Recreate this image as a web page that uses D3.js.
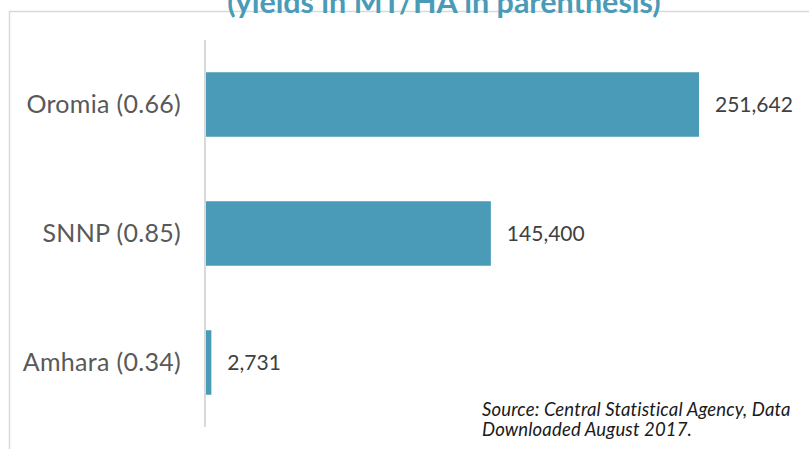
<!DOCTYPE html>
<html>
<head>
<meta charset="utf-8">
<script src="https://cdn.jsdelivr.net/npm/d3@7"></script>
<style>
  html, body { margin: 0; padding: 0; background: #ffffff; }
  svg { display: block; font-family: Lato, "Open Sans", sans-serif; }
</style>
</head>
<body>
<svg id="chart" width="809" height="449"></svg>
<script>
// Production by region, tonnes; yields (MT/HA) shown beside each region name
const regions = ["Oromia", "SNNP", "Amhara"];
const yields = ["0.66", "0.85", "0.34"];
const production = [251642, 145400, 2731];
const titleText = "(yields in MT/HA in parenthesis)";
const sourceLines = ["Source: Central Statistical Agency, Data", "Downloaded August 2017."];

const svg = d3.select("#chart");
const W = 809, H = 449;

// panel frame (open to the right and bottom)
svg.append("path")
  .attr("d", `M9.5,${H + 5}V11.5H${W + 5}`)
  .attr("fill", "none")
  .attr("stroke", "#d9d9d9")
  .attr("stroke-width", 1.5);

// title, running off the top edge of the panel
svg.append("text")
  .attr("x", 444)
  .attr("y", 12.5)
  .attr("text-anchor", "middle")
  .attr("font-size", 30.5)
  .attr("font-weight", 700)
  .attr("fill", "#4a9bb8")
  .text(titleText);

const labels = regions.map((r, i) => `${r} (${yields[i]})`);

const x = d3.scaleLinear()
  .domain([0, production[0]])
  .range([206, 699]);

const y = d3.scaleBand()
  .domain(labels)
  .range([40, 427])
  .paddingInner(0.5)
  .paddingOuter(0.25);

// bars
svg.append("g")
  .selectAll("rect")
  .data(production)
  .join("rect")
  .attr("x", x(0))
  .attr("y", (d, i) => y(labels[i]))
  .attr("width", d => x(d) - x(0))
  .attr("height", y.bandwidth())
  .attr("fill", "#4a9bb8");

// category axis
const axis = svg.append("g")
  .attr("transform", "translate(205,0)")
  .call(d3.axisLeft(y).tickSize(0).tickPadding(24));
axis.select(".domain")
  .attr("d", `M0,40V427`)
  .attr("stroke", "#d9d9d9")
  .attr("stroke-width", 2);
axis.selectAll(".tick text")
  .attr("font-family", "Lato, sans-serif")
  .attr("font-size", 25)
  .attr("letter-spacing", 0.3)
  .attr("fill", "#595959")
  .attr("dy", "0.35em");

// value labels
const fmt = d3.format(",");
svg.append("g")
  .selectAll("text")
  .data(production)
  .join("text")
  .attr("x", d => x(d) + 16)
  .attr("y", (d, i) => y(labels[i]) + y.bandwidth() / 2)
  .attr("dy", "0.35em")
  .attr("font-size", 21)
  .attr("fill", "#404040")
  .text(d => fmt(d));

// source note
svg.append("text")
  .attr("x", 482)
  .attr("y", 415.5)
  .attr("font-size", 18.5)
  .attr("font-style", "italic")
  .attr("letter-spacing", 0.15)
  .attr("fill", "#1a1a1a")
  .selectAll("tspan")
  .data(sourceLines)
  .join("tspan")
  .attr("x", 482)
  .attr("dy", (d, i) => i === 0 ? 0 : 20.5)
  .text(d => d);
</script>
</body>
</html>
